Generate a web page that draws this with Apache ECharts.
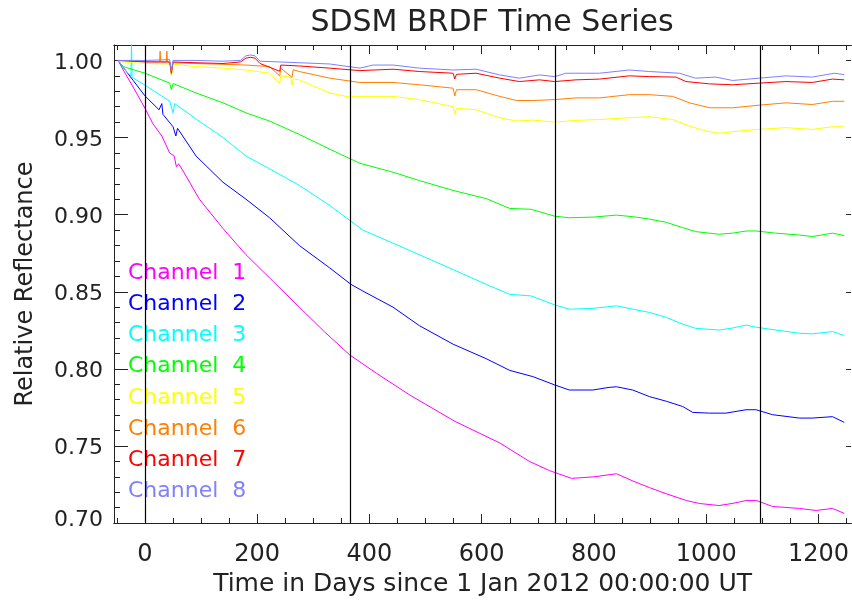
<!DOCTYPE html>
<html>
<head>
<meta charset="utf-8">
<script src="https://cdn.jsdelivr.net/npm/echarts@6/dist/echarts.min.js"></script>
<style>html,body{margin:0;padding:0;background:#fff}#c{width:852px;height:602px}</style>
</head>
<body>
<div id="c"></div>
<script>
// ---- data (day since 1 Jan 2012, relative reflectance) ----
const channelNames = ['Channel 1','Channel 2','Channel 3','Channel 4','Channel 5','Channel 6','Channel 7','Channel 8'];
const channelColors = ['#ff00ff','#0000ff','#00ffff','#00ff00','#ffff00','#ff8000','#ff0000','#8080ff'];
const xTickValues = [0,200,400,600,800,1000,1200];
const xMinorValues = [-50,0,50,100,150,200,250,300,350,400,450,500,550,600,650,700,750,800,850,900,950,1000,1050,1100,1150,1200,1250];
const yTickValues = [0.70,0.75,0.80,0.85,0.90,0.95,1.00];
const yMinorValues = [0.70,0.71,0.72,0.73,0.74,0.75,0.76,0.77,0.78,0.79,0.80,0.81,0.82,0.83,0.84,0.85,0.86,0.87,0.88,0.89,0.90,0.91,0.92,0.93,0.94,0.95,0.96,0.97,0.98,0.99,1.00,1.01];
const yearStarts = [0,366,731,1096];

const ch1 = [[-48,1.000],[-39,0.994],[-20,0.982],[0,0.969],[14,0.959],[30,0.951],[44,0.940],[52,0.938],[56,0.931],[60,0.933],[70,0.927],[97,0.910],[139,0.891],[180,0.874],[222,0.859],[275,0.840],[320,0.824],[365,0.809],[383,0.8045],[413,0.797],[472,0.783],[552,0.766],[632,0.752],[685,0.740],[721,0.734],[760,0.729],[800,0.730],[840,0.732],[868,0.7275],[899,0.723],[929,0.719],[965,0.7146],[988,0.7127],[1023,0.7114],[1046,0.7127],[1071,0.7146],[1090,0.7146],[1118,0.7108],[1166,0.7095],[1196,0.7082],[1225,0.7095],[1246,0.7063]];
const ch2 = [[-48,1.000],[-21,0.987],[0,0.977],[25,0.968],[30,0.972],[32,0.965],[50,0.957],[55,0.951],[58,0.956],[91,0.938],[139,0.921],[180,0.910],[222,0.898],[275,0.880],[329,0.8655],[367,0.8548],[388,0.8505],[442,0.840],[489,0.828],[549,0.816],[608,0.8066],[650,0.799],[691,0.795],[730,0.7896],[756,0.7863],[798,0.7863],[827,0.788],[840,0.7884],[869,0.7863],[899,0.782],[929,0.779],[958,0.7756],[976,0.7718],[1006,0.7713],[1035,0.7713],[1071,0.7735],[1089,0.7735],[1118,0.7703],[1166,0.7681],[1189,0.7681],[1225,0.769],[1246,0.7653]];
const ch3 = [[-48,1.000],[-33,0.9927],[-25,0.990],[-24,1.012],[-23,0.989],[0,0.984],[44,0.9735],[50,0.966],[53,0.972],[91,0.962],[139,0.950],[180,0.938],[222,0.9297],[275,0.919],[329,0.906],[388,0.890],[442,0.8815],[489,0.874],[549,0.8644],[608,0.8548],[650,0.8483],[688,0.8473],[730,0.8415],[756,0.8387],[798,0.8392],[840,0.8409],[869,0.8387],[899,0.8366],[929,0.8334],[958,0.829],[981,0.8263],[1023,0.8252],[1047,0.8265],[1071,0.8284],[1089,0.827],[1124,0.8252],[1166,0.8231],[1189,0.8227],[1225,0.8242],[1246,0.8216]];
const ch4 = [[-48,1.000],[-39,0.996],[0,0.9917],[44,0.9853],[47,0.981],[50,0.985],[91,0.9789],[139,0.9725],[180,0.966],[222,0.9607],[275,0.952],[329,0.9425],[383,0.9333],[442,0.9275],[489,0.9221],[549,0.9157],[608,0.9104],[650,0.904],[688,0.9035],[730,0.899],[756,0.898],[798,0.8984],[840,0.8997],[869,0.8987],[899,0.8971],[929,0.895],[958,0.8916],[981,0.889],[1023,0.8873],[1047,0.888],[1071,0.8894],[1089,0.8894],[1124,0.888],[1166,0.8868],[1189,0.8858],[1225,0.888],[1246,0.8865]];
const ch5 = [[-48,1.000],[-40,0.999],[2,0.998],[44,0.9977],[47,0.990],[50,0.9975],[91,0.996],[139,0.995],[180,0.9938],[222,0.9917],[240,0.985],[242,0.990],[260,0.989],[262,0.984],[264,0.988],[275,0.9874],[329,0.9789],[358,0.9767],[383,0.9767],[442,0.9767],[489,0.9746],[549,0.970],[552,0.965],[555,0.969],[590,0.968],[632,0.9628],[662,0.9607],[691,0.9613],[730,0.960],[768,0.9611],[810,0.9617],[863,0.9628],[899,0.9635],[940,0.9617],[970,0.9574],[1000,0.9542],[1023,0.9528],[1059,0.9542],[1095,0.9553],[1142,0.9564],[1189,0.9553],[1225,0.957],[1246,0.957]];
const ch6 = [[-48,1.000],[2,0.9992],[26,0.999],[27,1.006],[28,0.999],[38,0.999],[39,1.006],[40,0.999],[45,0.9985],[47,0.991],[50,0.9985],[91,0.998],[180,0.997],[222,0.996],[240,0.990],[242,0.995],[262,0.989],[264,0.994],[275,0.9928],[329,0.9885],[383,0.9857],[442,0.9857],[489,0.9842],[549,0.982],[552,0.977],[555,0.981],[590,0.981],[632,0.9767],[662,0.974],[691,0.974],[730,0.9746],[768,0.9757],[810,0.9757],[863,0.9778],[899,0.9778],[940,0.9767],[970,0.9725],[1006,0.9693],[1047,0.9693],[1095,0.971],[1142,0.9725],[1189,0.9714],[1225,0.9735],[1246,0.9735]];
const ch7 = [[-48,1.000],[2,0.999],[44,0.999],[47,0.992],[50,0.999],[91,0.9985],[139,0.998],[170,0.999],[180,1.0015],[188,1.002],[196,1.0015],[205,0.998],[240,0.993],[242,0.997],[275,0.9964],[329,0.995],[383,0.9934],[442,0.9943],[489,0.9928],[549,0.9917],[552,0.988],[555,0.991],[590,0.9917],[632,0.9885],[667,0.9863],[703,0.9874],[730,0.9863],[768,0.9874],[810,0.9879],[863,0.990],[899,0.9895],[946,0.9892],[964,0.9863],[1006,0.9848],[1047,0.9842],[1095,0.9853],[1142,0.9863],[1189,0.9857],[1225,0.9879],[1246,0.9874]];
const ch8 = [[-48,1.000],[2,1.000],[44,1.0005],[47,0.993],[50,1.000],[91,1.000],[139,0.9995],[170,1.000],[180,1.003],[188,1.0035],[196,1.003],[205,0.9995],[275,0.9985],[329,0.9977],[383,0.995],[406,0.997],[442,0.997],[489,0.995],[549,0.9938],[590,0.9943],[632,0.9906],[667,0.9885],[703,0.9906],[730,0.9895],[750,0.9917],[810,0.9917],[863,0.9938],[899,0.9928],[952,0.9917],[981,0.9885],[1017,0.9892],[1047,0.987],[1095,0.9885],[1142,0.990],[1189,0.9892],[1228,0.9917],[1246,0.9908]];
const channelData = [ch1,ch2,ch3,ch4,ch5,ch6,ch7,ch8];

// ---- chart ----
const FONT = 'DejaVu Sans';
const TXT = '#222';
const X_MIN = -55.2, X_MAX = 1258.2, Y_MIN = 0.70, Y_MAX = 1.01;
const chart = echarts.init(document.getElementById('c'), null, {renderer:'canvas'});

function xAxisDef(pos, ticks, len, labels, extra) {
  return Object.assign({
    type:'value', position:pos, min:X_MIN, max:X_MAX, gridIndex:0,
    axisLine:{show:true, onZero:false, lineStyle:{color:TXT, width:1}},
    axisTick:{show:true, inside:true, length:len, customValues:ticks, lineStyle:{color:TXT, width:1}},
    axisLabel:labels ? {show:true, customValues:xTickValues, margin:20, fontFamily:FONT, fontSize:24, color:TXT,
      formatter:function(v){ return String(v); }} : {show:false},
    splitLine:{show:false}
  }, extra || {});
}
function yAxisDef(pos, ticks, len, labels, lineShow, extra) {
  return Object.assign({
    type:'value', position:pos, min:Y_MIN, max:Y_MAX, gridIndex:0,
    axisLine:{show:lineShow, onZero:false, lineStyle:{color:TXT, width:1}},
    axisTick:{show:true, inside:true, length:len, customValues:ticks, lineStyle:{color:TXT, width:1}},
    axisLabel:labels ? {
      show:true, customValues:yTickValues, margin:11, color:TXT,
      formatter:function(v){ return (Math.abs(v-0.70) < 1e-6 ? '{low|' : '{n|') + v.toFixed(2) + '}'; },
      rich:{
        n:{fontFamily:FONT, fontSize:22, color:TXT, padding:[5,0,0,0]},
        low:{fontFamily:FONT, fontSize:22, color:TXT, padding:[0,0,6,0]}
      }
    } : {show:false},
    splitLine:{show:false}
  }, extra || {});
}

const series = channelNames.map(function(name, i){
  const s = {
    name:name, type:'line', xAxisIndex:0, yAxisIndex:0,
    data:channelData[i], showSymbol:false, symbol:'none', clip:true,
    lineStyle:{color:channelColors[i], width:1}, itemStyle:{color:channelColors[i]},
    silent:true, z:2
  };
  if (i === 0) {
    s.markLine = {
      silent:true, symbol:['none','none'], label:{show:false},
      lineStyle:{color:'#000', type:'solid', width:1.2},
      data:yearStarts.map(function(d){ return {xAxis:d}; }),
      z:5
    };
  }
  return s;
});

chart.setOption({
  animation:false,
  backgroundColor:'#fff',
  title:{
    text:'SDSM BRDF Time Series', left:487, top:3, textAlign:'center',
    textStyle:{fontFamily:FONT, fontSize:30, fontWeight:'normal', color:TXT}
  },
  legend:{
    orient:'vertical', left:118, top:257, icon:'none', itemWidth:0, itemHeight:10, itemGap:9.2,
    selectedMode:false,
    formatter:function(n){ return n.replace(' ', '  '); },
    textStyle:{fontFamily:FONT, fontSize:22, lineHeight:22},
    data:channelNames.map(function(n,i){ return {name:n, textStyle:{color:channelColors[i]}}; })
  },
  grid:{left:114, top:45, width:738, height:483, containLabel:false},
  xAxis:[
    xAxisDef('bottom', xTickValues, 9, true, {
      name:'Time in Days since 1 Jan 2012 00:00:00 UT', nameLocation:'middle', nameGap:40,
      nameTextStyle:{fontFamily:FONT, fontSize:25, color:TXT}
    }),
    xAxisDef('bottom', xMinorValues, 5, false),
    xAxisDef('top', xTickValues, 9, false),
    xAxisDef('top', xMinorValues, 5, false)
  ],
  yAxis:[
    yAxisDef('left', yTickValues, 14, true, true, {
      name:'Relative Reflectance', nameLocation:'middle', nameGap:76, nameRotate:90,
      nameTextStyle:{fontFamily:FONT, fontSize:24, color:TXT}
    }),
    yAxisDef('left', yMinorValues, 6, false, false),
    yAxisDef('right', yTickValues, 5, false, false)
  ],
  series:series
});
</script>
</body>
</html>
